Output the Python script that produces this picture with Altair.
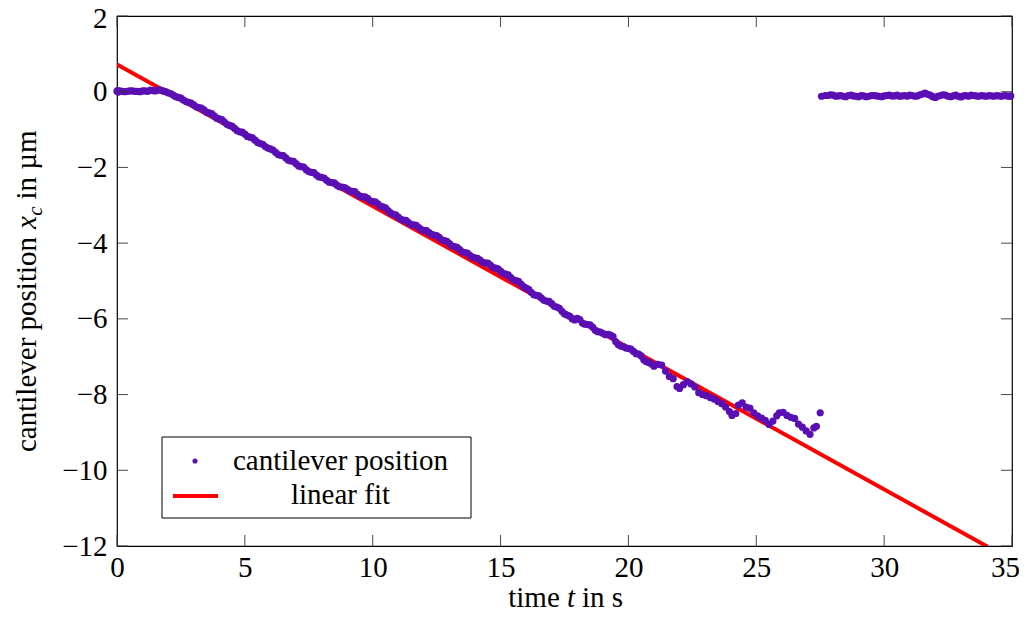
import altair as alt
import pandas as pd

# ---------------- data ----------------
time_s = [
    0.0, 0.02, 0.05, 0.2, 0.4, 0.6, 0.8, 1.0, 1.2, 1.4, 1.6, 1.8,
    2.0, 2.2, 2.4, 2.6, 2.8, 3.0, 3.2, 3.4, 3.6, 3.8,
    4.0, 4.2, 4.4, 4.6, 4.8, 5.0, 5.2, 5.4, 5.6, 5.8,
    6.0, 6.2, 6.4, 6.6, 6.8, 7.0, 7.2, 7.4, 7.6, 7.8,
    8.0, 8.2, 8.4, 8.6, 8.8, 9.0, 9.2, 9.4, 9.6, 9.8,
    10.0, 10.2, 10.4, 10.6, 10.8, 11.0, 11.2, 11.4, 11.6, 11.8,
    12.0, 12.2, 12.4, 12.6, 12.8, 13.0, 13.2, 13.4, 13.6, 13.8,
    14.0, 14.2, 14.4, 14.6, 14.8, 15.0, 15.2, 15.4, 15.6, 15.8,
    16.0, 16.2, 16.4, 16.6, 16.8, 17.0, 17.2, 17.4, 17.6, 17.8,
    18.0, 18.2, 18.4, 18.6, 18.8, 19.0, 19.2, 19.4, 19.6, 19.8,
    20.0, 20.2, 20.4, 20.6, 20.8,
    21.0, 21.15, 21.3, 21.45, 21.6, 21.75, 21.9, 22.0, 22.15, 22.3,
    22.45, 22.6, 22.75, 22.9, 23.05, 23.2, 23.35, 23.5, 23.65, 23.8,
    23.95, 24.05, 24.2, 24.3, 24.45, 24.6, 24.75, 24.9, 25.05, 25.2,
    25.35, 25.5, 25.65, 25.8, 25.9, 26.05, 26.2, 26.35, 26.5, 26.65,
    26.8, 26.95, 27.1, 27.25, 27.35, 27.5,
    27.55, 27.8, 28.0, 28.2, 28.4, 28.6, 28.8, 29.0, 29.2, 29.4,
    29.6, 29.8, 30.0, 30.2, 30.4, 30.6, 30.8, 31.0, 31.2, 31.4,
    31.6, 31.8, 32.0, 32.2, 32.4, 32.6, 32.8, 33.0, 33.2, 33.4,
    33.6, 33.8, 34.0, 34.2, 34.4, 34.6, 34.8, 34.95,
]
position_um = [
    0.01, 0.03, -0.01, 0.01, 0.01, 0.02, 0.01, 0.02, 0.01, 0.03, 0.05, 0.02,
    -0.03, -0.09, -0.15, -0.22, -0.28, -0.35, -0.42, -0.48, -0.56, -0.64,
    -0.72, -0.80, -0.89, -0.97, -1.06, -1.12, -1.20, -1.28, -1.37, -1.45,
    -1.51, -1.60, -1.68, -1.75, -1.83, -1.90, -1.98, -2.06, -2.13, -2.20,
    -2.26, -2.34, -2.40, -2.47, -2.52, -2.57, -2.63, -2.71, -2.78, -2.82,
    -2.90, -2.96, -3.04, -3.14, -3.24, -3.31, -3.39, -3.46, -3.52, -3.59,
    -3.66, -3.72, -3.79, -3.85, -3.93, -4.01, -4.09, -4.17, -4.25, -4.32,
    -4.39, -4.45, -4.52, -4.58, -4.66, -4.74, -4.82, -4.91, -4.99, -5.08,
    -5.19, -5.30, -5.38, -5.45, -5.53, -5.60, -5.69, -5.80, -5.90, -6.00,
    -5.99, -6.11, -6.15, -6.22, -6.34, -6.38, -6.41, -6.47, -6.68, -6.73,
    -6.78, -6.86, -6.93, -7.08, -7.15,
    -7.25, -7.20, -7.22, -7.38, -7.52, -7.58, -7.79, -7.84, -7.74, -7.66,
    -7.72, -7.80, -7.95, -8.00, -8.03, -8.08, -8.12, -8.18, -8.24, -8.33,
    -8.45, -8.55, -8.50, -8.28, -8.22, -8.33, -8.36, -8.48, -8.56, -8.62,
    -8.68, -8.79, -8.70, -8.56, -8.48, -8.47, -8.55, -8.60, -8.63, -8.78,
    -8.86, -8.96, -9.05, -8.88, -8.84, -8.48,
    -0.12, -0.10, -0.09, -0.11, -0.12, -0.10, -0.11, -0.13, -0.11, -0.12,
    -0.10, -0.12, -0.11, -0.09, -0.11, -0.12, -0.10, -0.09, -0.12, -0.08,
    -0.04, -0.09, -0.15, -0.10, -0.09, -0.13, -0.09, -0.14, -0.10, -0.09,
    -0.11, -0.10, -0.12, -0.11, -0.10, -0.12, -0.11, -0.11,
]
# interleaved samples between the ones above
time_s_mid = [
    0.1, 0.3, 0.5, 0.7, 0.9, 1.1, 1.3, 1.5, 1.7, 1.9,
    2.1, 2.3, 2.5, 2.7, 2.9, 3.1, 3.3, 3.5, 3.7, 3.9,
    4.1, 4.3, 4.5, 4.7, 4.9, 5.1, 5.3, 5.5, 5.7, 5.9,
    6.1, 6.3, 6.5, 6.7, 6.9, 7.1, 7.3, 7.5, 7.7, 7.9,
    8.1, 8.3, 8.5, 8.7, 8.9, 9.1, 9.3, 9.5, 9.7, 9.9,
    10.1, 10.3, 10.5, 10.7, 10.9, 11.1, 11.3, 11.5, 11.7, 11.9,
    12.1, 12.3, 12.5, 12.7, 12.9, 13.1, 13.3, 13.5, 13.7, 13.9,
    14.1, 14.3, 14.5, 14.7, 14.9, 15.1, 15.3, 15.5, 15.7, 15.9,
    16.1, 16.3, 16.5, 16.7, 16.9, 17.1, 17.3, 17.5, 17.7, 17.9,
    18.1, 18.3, 18.5, 18.7, 18.9, 19.1, 19.3, 19.5, 19.7, 19.9,
    20.1, 20.3, 20.5, 20.7, 20.9,
    27.7, 27.9, 28.1, 28.3, 28.5, 28.7, 28.9, 29.1, 29.3, 29.5,
    29.7, 29.9, 30.1, 30.3, 30.5, 30.7, 30.9, 31.1, 31.3, 31.5,
    31.7, 31.9, 32.1, 32.3, 32.5, 32.7, 32.9, 33.1, 33.3, 33.5,
    33.7, 33.9, 34.1, 34.3, 34.5, 34.7, 34.9,
]
position_um_mid = [
    0.02, 0.00, 0.02, 0.01, 0.00, 0.02, 0.04, 0.02, 0.04, 0.00,
    -0.05, -0.13, -0.17, -0.26, -0.30, -0.40, -0.43, -0.54, -0.58, -0.70,
    -0.74, -0.86, -0.91, -1.03, -1.07, -1.18, -1.22, -1.34, -1.39, -1.49,
    -1.54, -1.66, -1.69, -1.81, -1.84, -1.96, -1.99, -2.11, -2.14, -2.25,
    -2.28, -2.39, -2.41, -2.51, -2.53, -2.62, -2.64, -2.76, -2.78, -2.88,
    -2.91, -3.02, -3.07, -3.20, -3.25, -3.37, -3.40, -3.51, -3.53, -3.64,
    -3.67, -3.77, -3.80, -3.91, -3.95, -4.07, -4.11, -4.23, -4.26, -4.37,
    -4.40, -4.51, -4.53, -4.64, -4.68, -4.80, -4.84, -4.97, -5.01, -5.15,
    -5.22, -5.36, -5.39, -5.51, -5.54, -5.67, -5.72, -5.87, -5.93, -6.03,
    -6.02, -6.14, -6.16, -6.30, -6.35, -6.42, -6.43, -6.60, -6.72, -6.77,
    -6.80, -6.92, -6.98, -7.13, -7.19,
    -0.10, -0.08, -0.12, -0.10, -0.13, -0.09, -0.12, -0.10, -0.13, -0.10,
    -0.11, -0.13, -0.10, -0.11, -0.09, -0.11, -0.12, -0.10, -0.11, -0.06,
    -0.07, -0.13, -0.12, -0.08, -0.12, -0.11, -0.12, -0.11, -0.12, -0.10,
    -0.12, -0.11, -0.10, -0.12, -0.11, -0.10, -0.12,
]
fit_time_s = [0.0, 34.05]
fit_position_um = [0.72, -12.02]

x_ticks = [0, 5, 10, 15, 20, 25, 30, 35]
y_ticks = [-12, -10, -8, -6, -4, -2, 0, 2]
legend_labels = ["cantilever position", "linear fit"]
x_title_parts = ["time", "t", "in s"]
y_title_parts = ["cantilever position", "x", "c", "in µm"]

# ---------------- styling ----------------
W, H = 895, 530
FONT = "Liberation Serif"
FS = 29
PURPLE = "#5a0fb4"
RED = "#ff0000"

df = pd.DataFrame({"t": time_s + time_s_mid, "x": position_um + position_um_mid})
fit_df = pd.DataFrame({"t": fit_time_s, "x": fit_position_um})
xt_df = pd.DataFrame({"t": x_ticks})
yt_df = pd.DataFrame({"x": y_ticks})
one = pd.DataFrame({"k": [0]})

xscale = alt.Scale(domain=[0, 35], nice=False, zero=False)
yscale = alt.Scale(domain=[-12, 2], nice=False, zero=False)

x_axis = alt.Axis(values=x_ticks, title="", ticks=False, domain=False, grid=False,
                  labelFont=FONT, labelFontSize=FS, labelColor="black",
                  labelPadding=7, labelFlush=False, labelOverlap=False,
                  labelOffset=alt.condition("datum.value == 35", alt.value(-7), alt.value(0)))
y_axis = alt.Axis(values=y_ticks, title="", ticks=False, domain=False, grid=False,
                  labelFont=FONT, labelFontSize=FS, labelColor="black",
                  labelPadding=10, labelFlush=False, labelOverlap=False,
                  labelOffset=alt.condition("datum.value == 2", alt.value(2), alt.value(0)))

X = alt.X("t:Q", scale=xscale, axis=x_axis)
Y = alt.Y("x:Q", scale=yscale, axis=y_axis)

fit_line = alt.Chart(fit_df).mark_line(color=RED, strokeWidth=4, clip=True).encode(x=X, y=Y)
points = alt.Chart(df).mark_circle(size=52, color=PURPLE, opacity=1).encode(x=X, y=Y)

TL = 11
tick_style = dict(color="#333333", strokeWidth=0.9)
xt_bottom = alt.Chart(xt_df).mark_rule(**tick_style).encode(
    x=X, y=alt.value(H), y2=alt.value(H - TL))
xt_top = alt.Chart(xt_df).mark_rule(**tick_style).encode(
    x=X, y=alt.value(0), y2=alt.value(TL))
yt_left = alt.Chart(yt_df).mark_rule(**tick_style).encode(
    y=Y, x=alt.value(0), x2=alt.value(TL))
yt_right = alt.Chart(yt_df).mark_rule(**tick_style).encode(
    y=Y, x=alt.value(W), x2=alt.value(W - TL))

# ---------------- legend ----------------
leg_box = alt.Chart(one).mark_rect(fill="white", stroke="black", strokeWidth=1).encode(
    x=alt.value(45), x2=alt.value(354), y=alt.value(421), y2=alt.value(502))
leg_dot = alt.Chart(one).mark_circle(size=26, color=PURPLE, opacity=1).encode(
    x=alt.value(78), y=alt.value(445))
leg_line = alt.Chart(one).mark_rule(color=RED, strokeWidth=4).encode(
    x=alt.value(56), x2=alt.value(101), y=alt.value(480))


def txt(text, x, y, size=FS, italic=False, angle=0):
    kw = dict(text=text, font=FONT, fontSize=size, align="center",
              baseline="alphabetic", color="black")
    if italic:
        kw["fontStyle"] = "italic"
    if angle:
        kw["angle"] = angle
    return alt.Chart(one).mark_text(**kw).encode(x=alt.value(x), y=alt.value(y))


leg_t1 = txt(legend_labels[0], 223.5, 454)
leg_t2 = txt(legend_labels[1], 223.5, 488)

# ---------------- axis titles ----------------
XB = 591
xt1 = txt(x_title_parts[0], 417, XB)
xt2 = txt(x_title_parts[1], 454, XB, italic=True)
xt3 = txt(x_title_parts[2], 485.5, XB)

YB = -81
yt1 = txt(y_title_parts[0], YB, 328.5, angle=270)
yt2 = txt(y_title_parts[1], YB, 206.5, italic=True, angle=270)
yt3 = txt(y_title_parts[2], YB + 6, 195, size=21, italic=True, angle=270)
yt4 = txt(y_title_parts[3], YB, 149, angle=270)

chart = alt.layer(
    fit_line, points, xt_bottom, xt_top, yt_left, yt_right,
    leg_box, leg_dot, leg_line, leg_t1, leg_t2,
    xt1, xt2, xt3, yt1, yt2, yt3, yt4,
).properties(
    width=W, height=H,
    padding={"left": 109, "top": 8, "right": 7, "bottom": 66},
    autosize=alt.AutoSizeParams(type="none"),
).configure_view(stroke="black", strokeWidth=1.2)

chart.save("out.html", embed_options={"renderer": "svg", "actions": False})
